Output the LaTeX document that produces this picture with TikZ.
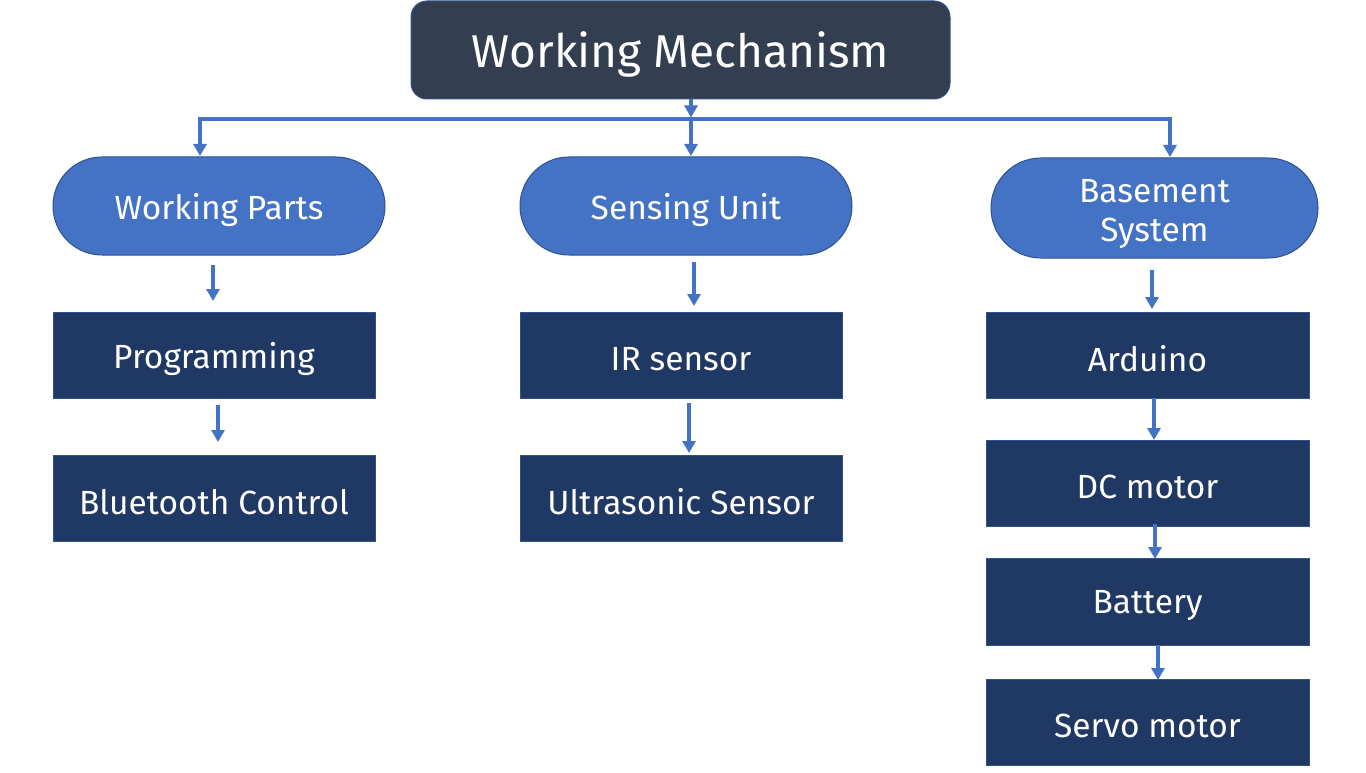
\documentclass[tikz,border=0pt]{standalone}
\usepackage{fontspec}
\setmainfont{Fira Sans}
\usetikzlibrary{arrows.meta}
\definecolor{titlefill}{HTML}{333F50}
\definecolor{pillfill}{HTML}{4472C4}
\definecolor{pilledge}{HTML}{2F528F}
\definecolor{boxfill}{HTML}{203864}
\definecolor{arrowcol}{HTML}{4472C4}
\newcommand\myshiftdown[2]{\raisebox{-#1}[\height][\depth]{#2}}
\tikzset{
  titlebox/.style={draw=pilledge, line width=1pt, fill=titlefill, rounded corners=16pt, minimum width=539pt, minimum height=98pt, inner sep=0pt, text=white, font=\fontsize{46}{52}\selectfont},
  pill/.style={draw=pilledge, line width=1pt, fill=pillfill, rounded corners=49pt, minimum width=332pt, minimum height=98pt, inner sep=0pt, text=white, align=center, font=\fontsize{33.5}{40}\selectfont},
  sbox/.style={draw=pilledge, line width=1pt, fill=boxfill, minimum width=322pt, minimum height=86pt, inner sep=0pt, text=white, font=\fontsize{33.5}{40}\selectfont},
  arr/.style={draw=arrowcol, line width=3.5pt, -{Triangle[width=13pt,length=12pt]}},
  busline/.style={draw=arrowcol, line width=3.5pt},
}
\begin{document}
\begin{tikzpicture}[x=1pt,y=-1pt]
\useasboundingbox (0,0) rectangle (1366,773);
\node[titlebox] (wm) at (680.5,50) {\myshiftdown{4pt}{Working Mechanism}};
\node[pill] (wp) at (219,206) {\myshiftdown{4pt}{Working Parts}};
\node[pill] (su) at (686,206) {\myshiftdown{4pt}{Sensing Unit}};
\node[pill, minimum width=327pt, minimum height=100pt, rounded corners=50pt] (bs) at (1154.5,208) {\myshiftdown{6pt}{\begin{tabular}{@{}c@{}}Basement\\System\end{tabular}}};
\node[sbox] (prog) at (214,355) {\myshiftdown{4pt}{Programming}};
\node[sbox] (bt) at (214,498) {\myshiftdown{4pt}{Bluetooth Control}};
\node[sbox] (ir) at (681,355) {\myshiftdown{4pt}{IR sensor}};
\node[sbox] (us) at (681,498) {\myshiftdown{4pt}{Ultrasonic Sensor}};
\node[sbox, minimum width=323pt] (ard) at (1147.5,355) {\myshiftdown{4pt}{Arduino}};
\node[sbox, minimum width=323pt] (dc) at (1147.5,483) {\myshiftdown{4pt}{DC motor}};
\node[sbox, minimum width=323pt, minimum height=87pt] (bat) at (1147.5,601.5) {\myshiftdown{4pt}{Battery}};
\node[sbox, minimum width=323pt] (servo) at (1147.5,722) {\myshiftdown{4pt}{Servo motor}};
\coordinate (busL) at (200,119);
\coordinate (busM) at (691,119);
\coordinate (busR) at (1170,119);
\draw[busline] ([xshift=-1.75pt]busL) -- ([xshift=1.75pt]busR);
\draw[arr] (691,99) -- ([yshift=1.5pt]busM);
\draw[arr] (busL) -- (200,156);
\draw[arr] (busM) -- (691,156);
\draw[arr] (busR) -- (1170,157);
\draw[arr] (213,265) -- (213,301);
\draw[arr] (694,262) -- (694,306);
\draw[arr] (1152,270) -- (1152,309);
\draw[arr] (218,405) -- (218,442);
\draw[arr] (689,403) -- (689,453);
\draw[arr] (1154,398) -- (1154,440);
\draw[arr] (1155,524) -- (1155,559);
\draw[arr] (1158,645) -- (1158,680);
\end{tikzpicture}
\end{document}
